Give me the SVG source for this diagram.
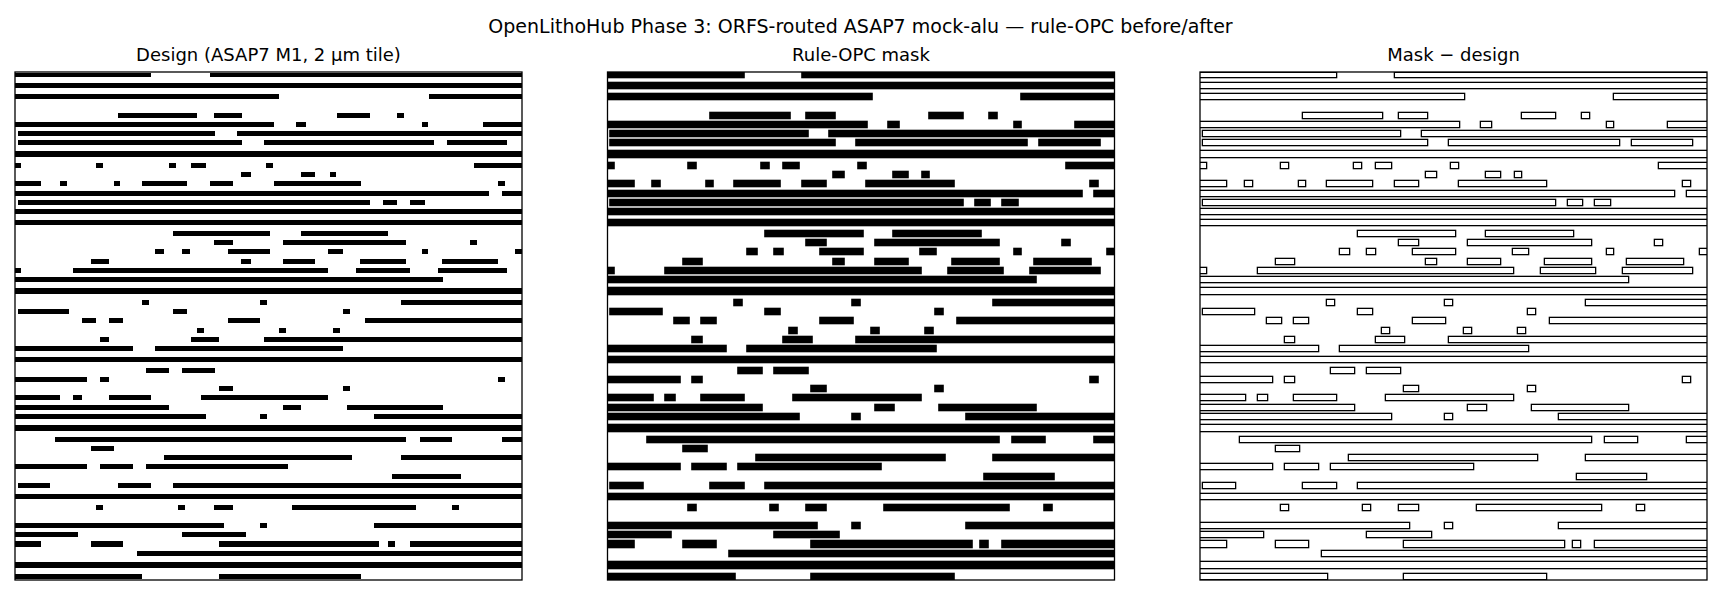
<svg xmlns="http://www.w3.org/2000/svg" xmlns:xlink="http://www.w3.org/1999/xlink" width="1721" height="595" viewBox="0 0 1721 595">
<style>
text{font-family:"DejaVu Sans",sans-serif;fill:#000;text-anchor:middle}
.t{font-size:19px}.s{font-size:18px}
.frame{fill:none;stroke:#000;stroke-width:1.3}
.mask{fill:#000;stroke:#000;stroke-width:2.6}
.des{fill:#fff;stroke:none}
</style>
<defs>
<clipPath id="c"><rect x="15" y="72" width="507" height="508"/></clipPath>
<g id="d">
<rect x="15" y="73" width="136" height="4"/><rect x="210" y="73" width="312" height="4"/>
<rect x="15" y="83" width="507" height="5"/>
<rect x="15" y="94" width="264" height="5"/><rect x="429" y="94" width="93" height="5"/>
<rect x="118" y="113" width="79" height="5"/><rect x="214" y="113" width="28" height="5"/><rect x="337" y="113" width="33" height="5"/><rect x="397" y="113" width="7" height="5"/>
<rect x="15" y="122" width="259" height="5"/><rect x="296" y="122" width="10" height="5"/><rect x="422" y="122" width="6" height="5"/><rect x="483" y="122" width="39" height="5"/>
<rect x="18" y="131" width="197" height="5"/><rect x="237" y="131" width="285" height="5"/>
<rect x="18" y="140" width="224" height="5"/><rect x="264" y="140" width="170" height="5"/><rect x="447" y="140" width="60" height="5"/>
<rect x="15" y="151" width="507" height="6"/>
<rect x="15" y="163" width="6" height="5"/><rect x="96" y="163" width="7" height="5"/><rect x="169" y="163" width="7" height="5"/><rect x="191" y="163" width="15" height="5"/><rect x="266" y="163" width="7" height="5"/><rect x="474" y="163" width="48" height="5"/>
<rect x="241" y="172" width="10" height="5"/><rect x="301" y="172" width="14" height="5"/><rect x="330" y="172" width="6" height="5"/>
<rect x="15" y="181" width="26" height="5"/><rect x="60" y="181" width="7" height="5"/><rect x="114" y="181" width="6" height="5"/><rect x="142" y="181" width="45" height="5"/><rect x="210" y="181" width="23" height="5"/><rect x="274" y="181" width="87" height="5"/><rect x="498" y="181" width="7" height="5"/>
<rect x="15" y="191" width="474" height="5"/><rect x="502" y="191" width="20" height="5"/>
<rect x="18" y="200" width="352" height="5"/><rect x="383" y="200" width="14" height="5"/><rect x="410" y="200" width="15" height="5"/>
<rect x="15" y="209" width="507" height="5"/>
<rect x="15" y="220" width="507" height="5"/>
<rect x="173" y="231" width="97" height="5"/><rect x="301" y="231" width="87" height="5"/>
<rect x="214" y="240" width="19" height="5"/><rect x="283" y="240" width="123" height="5"/><rect x="470" y="240" width="7" height="5"/>
<rect x="155" y="249" width="9" height="5"/><rect x="182" y="249" width="8" height="5"/><rect x="228" y="249" width="42" height="5"/><rect x="328" y="249" width="15" height="5"/><rect x="422" y="249" width="6" height="5"/><rect x="515" y="249" width="7" height="5"/>
<rect x="91" y="259" width="18" height="5"/><rect x="241" y="259" width="10" height="5"/><rect x="283" y="259" width="32" height="5"/><rect x="360" y="259" width="46" height="5"/><rect x="442" y="259" width="56" height="5"/>
<rect x="15" y="268" width="6" height="5"/><rect x="73" y="268" width="255" height="5"/><rect x="356" y="268" width="54" height="5"/><rect x="438" y="268" width="69" height="5"/>
<rect x="15" y="277" width="428" height="5"/>
<rect x="15" y="288" width="507" height="6"/>
<rect x="142" y="300" width="7" height="5"/><rect x="260" y="300" width="7" height="5"/><rect x="401" y="300" width="121" height="5"/>
<rect x="18" y="309" width="51" height="5"/><rect x="173" y="309" width="14" height="5"/><rect x="343" y="309" width="7" height="5"/>
<rect x="82" y="318" width="14" height="5"/><rect x="109" y="318" width="14" height="5"/><rect x="228" y="318" width="32" height="5"/><rect x="365" y="318" width="157" height="5"/>
<rect x="197" y="328" width="7" height="5"/><rect x="279" y="328" width="7" height="5"/><rect x="333" y="328" width="7" height="5"/>
<rect x="100" y="337" width="9" height="5"/><rect x="191" y="337" width="28" height="5"/><rect x="264" y="337" width="258" height="5"/>
<rect x="15" y="346" width="118" height="5"/><rect x="155" y="346" width="188" height="5"/>
<rect x="15" y="357" width="507" height="5"/>
<rect x="146" y="368" width="23" height="5"/><rect x="182" y="368" width="33" height="5"/>
<rect x="15" y="377" width="72" height="5"/><rect x="100" y="377" width="9" height="5"/><rect x="498" y="377" width="7" height="5"/>
<rect x="219" y="386" width="14" height="5"/><rect x="343" y="386" width="7" height="5"/>
<rect x="15" y="395" width="45" height="5"/><rect x="73" y="395" width="9" height="5"/><rect x="109" y="395" width="42" height="5"/><rect x="201" y="395" width="127" height="5"/>
<rect x="15" y="405" width="154" height="5"/><rect x="283" y="405" width="18" height="5"/><rect x="347" y="405" width="96" height="5"/>
<rect x="15" y="414" width="191" height="5"/><rect x="260" y="414" width="7" height="5"/><rect x="374" y="414" width="148" height="5"/>
<rect x="15" y="425" width="507" height="6"/>
<rect x="55" y="437" width="351" height="5"/><rect x="420" y="437" width="32" height="5"/><rect x="502" y="437" width="20" height="5"/>
<rect x="91" y="446" width="23" height="5"/>
<rect x="164" y="455" width="188" height="5"/><rect x="401" y="455" width="121" height="5"/>
<rect x="15" y="464" width="72" height="5"/><rect x="100" y="464" width="33" height="5"/><rect x="146" y="464" width="142" height="5"/>
<rect x="392" y="474" width="69" height="5"/>
<rect x="18" y="483" width="32" height="5"/><rect x="118" y="483" width="33" height="5"/><rect x="173" y="483" width="349" height="5"/>
<rect x="15" y="494" width="507" height="5"/>
<rect x="96" y="505" width="7" height="5"/><rect x="178" y="505" width="7" height="5"/><rect x="214" y="505" width="19" height="5"/><rect x="292" y="505" width="124" height="5"/><rect x="452" y="505" width="7" height="5"/>
<rect x="15" y="523" width="209" height="5"/><rect x="260" y="523" width="7" height="5"/><rect x="374" y="523" width="148" height="5"/>
<rect x="15" y="532" width="63" height="5"/><rect x="182" y="532" width="64" height="5"/>
<rect x="15" y="541" width="26" height="6"/><rect x="91" y="541" width="32" height="6"/><rect x="219" y="541" width="160" height="6"/><rect x="388" y="541" width="7" height="6"/><rect x="410" y="541" width="112" height="6"/>
<rect x="137" y="551" width="385" height="5"/>
<rect x="15" y="562" width="507" height="6"/>
<rect x="15" y="574" width="127" height="5"/><rect x="219" y="574" width="142" height="5"/>
</g>
</defs>
<text class="t" x="860.5" y="33">OpenLithoHub Phase 3: ORFS-routed ASAP7 mock-alu — rule-OPC before/after</text>
<g id="panel-design">
<text class="s" x="268.5" y="61">Design (ASAP7 M1, 2 µm tile)</text>
<g clip-path="url(#c)"><use xlink:href="#d" fill="#000"/></g>
<rect class="frame" x="15" y="72" width="507" height="508"/>
</g>
<g id="panel-mask">
<text class="s" x="861" y="61">Rule-OPC mask</text>
<g transform="translate(592.5 0)" clip-path="url(#c)"><use xlink:href="#d" class="mask"/></g>
<rect class="frame" x="607.5" y="72" width="507" height="508"/>
</g>
<g id="panel-diff">
<text class="s" x="1453.5" y="61">Mask − design</text>
<g transform="translate(1185 0)" clip-path="url(#c)"><rect x="15" y="72" width="507" height="508" fill="#fff"/><use xlink:href="#d" class="mask"/><use xlink:href="#d" class="des"/></g>
<rect class="frame" x="1200" y="72" width="507" height="508"/>
</g>
</svg>
